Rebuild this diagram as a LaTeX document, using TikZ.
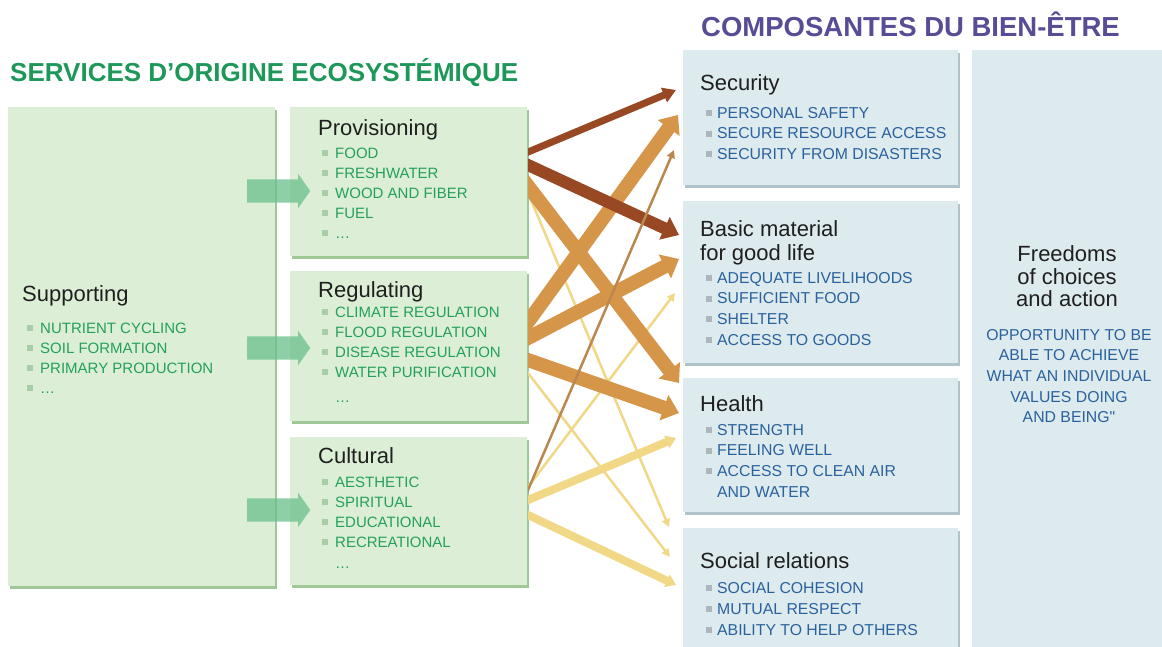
\documentclass[tikz,border=0pt]{standalone}
\usepackage{fontspec}
\setmainfont{Liberation Sans}
\usetikzlibrary{arrows.meta,shapes.arrows,shadows}

\definecolor{gfill}{RGB}{220,239,214}
\definecolor{gshade}{RGB}{158,200,150}
\definecolor{bfill}{RGB}{221,234,238}
\definecolor{bshade}{RGB}{176,194,202}
\definecolor{gtitle}{RGB}{30,152,90}
\definecolor{ptitle}{RGB}{88,76,150}
\definecolor{gtext}{RGB}{36,160,90}
\definecolor{btext}{RGB}{42,98,158}
\definecolor{gbul}{RGB}{168,206,168}
\definecolor{bbul}{RGB}{172,182,188}
\definecolor{brdark}{RGB}{152,72,34}
\definecolor{brtan}{RGB}{214,150,74}
\definecolor{brthin}{RGB}{186,136,78}
\definecolor{lyel}{RGB}{240,216,134}
\definecolor{garr}{RGB}{105,192,140}

\newcommand{\gsq}{\textcolor{gbul}{\rule[2pt]{6pt}{6pt}}\hspace{7pt}}
\newcommand{\bsq}{\textcolor{bbul}{\rule[2pt]{6pt}{6pt}}\hspace{5pt}}

\begin{document}
\begin{tikzpicture}[x=1pt,y=-1pt]
        \tikzstyle{gbox}=[fill=gfill,draw=none,anchor=north west,inner sep=0pt,drop shadow={shadow xshift=2pt,shadow yshift=-3pt,fill=gshade,opacity=1}]
        \tikzstyle{bbox}=[fill=bfill,draw=none,anchor=north west,inner sep=0pt,drop shadow={shadow xshift=2pt,shadow yshift=-3pt,fill=bshade,opacity=1}]
        \tikzstyle{head}=[anchor=base west,inner sep=0pt,font=\fontsize{22}{26}\selectfont,text=black!88]
        \tikzstyle{gitem}=[anchor=base west,inner sep=0pt,font=\fontsize{15}{18}\selectfont,text=gtext]
        \tikzstyle{bitem}=[anchor=base west,inner sep=0pt,font=\fontsize{15.8}{18}\selectfont,text=btext]
        \tikzstyle{garrow}=[single arrow,fill=garr,fill opacity=0.75,draw=none,text height=0pt,text depth=0pt,text width=0pt,inner xsep=0pt,inner ysep=11.5pt,minimum height=63pt,single arrow head extend=5.5pt,single arrow tip angle=110,anchor=west]
        \tikzstyle{strong}=[draw=brdark,line width=12pt,-{Triangle[length=16pt,width=24pt]}]
        \tikzstyle{strongthin}=[draw=brdark,line width=7pt,-{Triangle[length=13pt,width=15pt]}]
        \tikzstyle{medium}=[draw=brtan,line width=14pt,-{Triangle[length=16pt,width=26pt]}]
        \tikzstyle{weak}=[draw=brthin,line width=2.5pt,-{Triangle[length=8pt,width=8pt]}]
        \tikzstyle{weakyel}=[draw=lyel,line width=2.5pt,-{Triangle[length=8pt,width=8pt]}]
        \tikzstyle{medyel}=[draw=lyel,line width=8pt,-{Triangle[length=10pt,width=13pt]}]
        \useasboundingbox[fill=white] (0,0) rectangle (1162,646);

        % titles
        \node[font=\bfseries\fontsize{26}{30}\selectfont,text=gtitle,anchor=base west,inner sep=0pt] (tserv) at (10,81) {SERVICES D’ORIGINE ECOSYSTÉMIQUE};
        \node[font=\bfseries\fontsize{27.5}{32}\selectfont,text=ptitle,anchor=base west,inner sep=0pt] (tcomp) at (701,36) {COMPOSANTES DU BIEN-ÊTRE};

        % ecosystem services
        \node[gbox,minimum width=267pt,minimum height=479pt] (sup) at (8,107) {};
        \node[gbox,minimum width=237pt,minimum height=149pt] (prov) at (290,107) {};
        \node[gbox,minimum width=237pt,minimum height=150pt] (reg) at (290,271) {};
        \node[gbox,minimum width=237pt,minimum height=148pt] (cult) at (290,437) {};

        \node[head] (sup-h) at (22,301) {Supporting};
        \foreach \t [count=\i] in {NUTRIENT CYCLING,SOIL FORMATION,PRIMARY PRODUCTION,\dots}
            \node[gitem] (sup-\i) at (27,313+20*\i) {\gsq\t};
        \node[head] (prov-h) at (318,135) {Provisioning};
        \foreach \t [count=\i] in {FOOD,FRESHWATER,WOOD AND FIBER,FUEL,\dots}
            \node[gitem] (prov-\i) at (322,138+20*\i) {\gsq\t};
        \node[head] (reg-h) at (318,297) {Regulating};
        \foreach \t [count=\i] in {CLIMATE REGULATION,FLOOD REGULATION,DISEASE REGULATION,WATER PURIFICATION}
            \node[gitem] (reg-\i) at (322,297+20*\i) {\gsq\t};
        \node[gitem] (reg-5) at (335,402) {\dots};
        \node[head] (cult-h) at (318,463) {Cultural};
        \foreach \t [count=\i] in {AESTHETIC,SPIRITUAL,EDUCATIONAL,RECREATIONAL}
            \node[gitem] (cult-\i) at (322,467+20*\i) {\gsq\t};
        \node[gitem] (cult-5) at (335,568) {\dots};

        \node[garrow] (g1) at (247,191) {};
        \node[garrow] (g2) at (247,348) {};
        \node[garrow] (g3) at (247,510) {};

        % constituents of well-being
        \node[bbox,minimum width=275pt,minimum height=135pt] (sec) at (683,50) {};
        \node[bbox,minimum width=275pt,minimum height=162pt] (basic) at (683,201) {};
        \node[bbox,minimum width=275pt,minimum height=134pt] (health) at (683,378) {};
        \node[bbox,minimum width=275pt,minimum height=125pt] (social) at (683,528) {};
        \node[bbox,minimum width=192pt,minimum height=600pt] (free) at (972,50) {};

        \node[head] (sec-h) at (700,90) {Security};
        \foreach \t [count=\i] in {PERSONAL SAFETY,SECURE RESOURCE ACCESS,SECURITY FROM DISASTERS}
            \node[bitem] (sec-\i) at (706,97.5+20.5*\i) {\bsq\t};
        \node[head] (basic-h) at (700,236) {Basic material};
        \node[head] (basic-h2) at (700,260) {for good life};
        \foreach \t [count=\i] in {ADEQUATE LIVELIHOODS,SUFFICIENT FOOD,SHELTER,ACCESS TO GOODS}
            \node[bitem] (basic-\i) at (706,262.3+20.7*\i) {\bsq\t};
        \node[head] (health-h) at (700,411) {Health};
        \foreach \t [count=\i] in {STRENGTH,FEELING WELL,ACCESS TO CLEAN AIR}
            \node[bitem] (health-\i) at (706,414.3+20.7*\i) {\bsq\t};
        \node[bitem] (health-4) at (717,497) {AND WATER};
        \node[head] (social-h) at (700,568) {Social relations};
        \foreach \t [count=\i] in {SOCIAL COHESION,MUTUAL RESPECT,ABILITY TO HELP OTHERS}
            \node[bitem] (social-\i) at (706,572+21*\i) {\bsq\t};

        \node[head,anchor=base] (free-h1) at (1067,261) {Freedoms};
        \node[head,anchor=base] (free-h2) at (1067,284) {of choices};
        \node[head,anchor=base] (free-h3) at (1067,306) {and action};
        \foreach \t [count=\i] in {OPPORTUNITY TO BE,ABLE TO ACHIEVE,WHAT AN INDIVIDUAL,VALUES DOING,AND BEING\textquotedbl}
            \node[bitem,anchor=base] (free-\i) at (1069,319.3+20.7*\i) {\t};

        % links
        \coordinate (prov-o1) at (520,155.4);
        \coordinate (prov-o2) at (520,161.3);
        \coordinate (prov-o3) at (520,175.6);
        \coordinate (prov-o4) at (520,174);
        \coordinate (reg-o1) at (520,333);
        \coordinate (reg-o2) at (520,342.2);
        \coordinate (reg-o3) at (520,357.2);
        \coordinate (reg-o4) at (520,362.6);
        \coordinate (cult-o1) at (520,508.6);
        \coordinate (cult-o2) at (520,497.6);
        \coordinate (cult-o3) at (520,503.4);
        \coordinate (cult-o4) at (520,511.2);
        \coordinate (sec-i1) at (676,90);
        \coordinate (sec-i2) at (678,115);
        \coordinate (sec-i3) at (674,150);
        \coordinate (basic-i1) at (679,235);
        \coordinate (basic-i2) at (679,259);
        \coordinate (basic-i3) at (675,293);
        \coordinate (health-i1) at (679,383);
        \coordinate (health-i2) at (679,413);
        \coordinate (health-i3) at (676,438);
        \coordinate (social-i1) at (669,527);
        \coordinate (social-i2) at (670,557);
        \coordinate (social-i3) at (676,585);
        \begin{scope}
            \clip (528,0) rectangle (700,646);
            \draw[weakyel] (prov-o4) -- (social-i1);
            \draw[weakyel] (reg-o4) -- (social-i2);
            \draw[weakyel] (cult-o2) -- (basic-i3);
            \draw[medyel] (cult-o3) -- (health-i3);
            \draw[medyel] (cult-o4) -- (social-i3);
            \draw[medium] (reg-o1) -- (sec-i2);
            \draw[medium] (prov-o3) -- (health-i1);
            \draw[medium] (reg-o2) -- (basic-i2);
            \draw[medium] (reg-o3) -- (health-i2);
            \draw[strongthin] (prov-o1) -- (sec-i1);
            \draw[strong] (prov-o2) -- (basic-i1);
            \draw[weak] (cult-o1) -- (sec-i3);
        \end{scope}
    \end{tikzpicture}
\end{document}
